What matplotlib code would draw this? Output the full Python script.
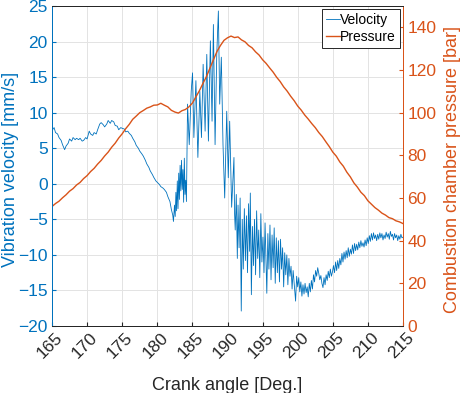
import matplotlib
matplotlib.use("Agg")
import matplotlib.pyplot as plt
import matplotlib.transforms as mtransforms

plt.rcParams['font.family'] = ['Liberation Sans', 'DejaVu Sans']

# crank angle [deg] and vibration velocity [mm/s]
vel_angle = [
    165.0, 165.3, 165.5, 165.8, 166.0, 166.3, 166.5, 166.8, 167.0, 167.3,
    167.5, 167.8, 168.0, 168.3, 168.5, 168.8, 169.0, 169.3, 169.5, 169.8,
    170.0, 170.3, 170.5, 170.8, 171.0, 171.3, 171.5, 171.8, 172.0, 172.3,
    172.5, 172.8, 173.0, 173.3, 173.5, 173.8, 174.0, 174.3, 174.5, 174.8,
    175.0, 175.3, 175.5, 175.8, 176.0, 176.3, 176.5, 176.8, 177.0, 177.3,
    177.5, 177.8, 178.0, 178.3, 178.5, 178.8, 179.0, 179.3, 179.5, 179.8,
    180.0, 180.3, 180.5, 180.8, 181.0, 181.3, 181.5, 181.8, 182.0, 182.2,
    182.3, 182.45, 182.55, 182.65, 182.75, 182.85, 182.95, 183.05, 183.15, 183.25,
    183.35, 183.45, 183.55, 183.65, 183.75, 183.85, 183.95, 184.05, 184.15, 184.31,
    184.55, 184.83, 185.02, 185.21, 185.5, 185.78, 186.06, 186.29, 186.53, 186.81,
    187.05, 187.28, 187.56, 187.8, 187.99, 188.23, 188.47, 188.7, 188.89, 189.12,
    189.36, 189.6, 189.89, 190.11, 190.31, 190.59, 190.92, 191.0, 191.1, 191.25,
    191.4, 191.5, 191.65, 191.8, 191.96, 192.1, 192.25, 192.4, 192.55, 192.7,
    192.85, 193.0, 193.15, 193.25, 193.4, 193.55, 193.7, 193.85, 194.0, 194.15,
    194.3, 194.45, 194.6, 194.75, 194.9, 195.05, 195.2, 195.35, 195.6, 195.75,
    195.9, 196.05, 196.2, 196.35, 196.5, 196.65, 196.8, 196.95, 197.1, 197.25,
    197.4, 197.55, 197.7, 197.85, 198.0, 198.15, 198.3, 198.45, 198.6, 198.75,
    198.9, 199.05, 199.2, 199.35, 199.5, 199.7, 199.85, 200.0, 200.15, 200.3,
    200.45, 200.6, 200.75, 200.9, 201.05, 201.2, 201.35, 201.5, 201.65, 201.8,
    201.95, 202.1, 202.25, 202.4, 202.55, 202.7, 202.85, 203.0, 203.15, 203.3,
    203.45, 203.6, 203.75, 203.9, 204.05, 204.2, 204.35, 204.5, 204.65, 204.8,
    204.95, 205.1, 205.25, 205.4, 205.55, 205.7, 205.85, 206.0, 206.15, 206.3,
    206.45, 206.6, 206.75, 206.9, 207.05, 207.2, 207.35, 207.5, 207.65, 207.8,
    207.95, 208.1, 208.25, 208.4, 208.55, 208.7, 208.85, 209.0, 209.15, 209.3,
    209.45, 209.6, 209.75, 209.9, 210.05, 210.2, 210.35, 210.5, 210.65, 210.8,
    210.95, 211.1, 211.25, 211.4, 211.55, 211.7, 211.85, 212.0, 212.15, 212.3,
    212.45, 212.6, 212.75, 212.9, 213.05, 213.2, 213.35, 213.5, 213.65, 213.8,
    213.95, 214.1, 214.25, 214.4, 214.55, 214.7, 214.85, 215.0,
]
velocity = [
    7.5, 7.9, 7.2, 7.0, 6.5, 6.1, 5.5, 4.8, 5.3, 5.7,
    6.3, 6.0, 6.5, 6.2, 6.4, 6.2, 6.4, 6.0, 6.1, 6.5,
    6.3, 7.4, 7.0, 6.8, 7.2, 7.0, 7.6, 8.4, 8.6, 8.3,
    8.0, 8.4, 8.9, 8.5, 8.9, 8.7, 8.2, 8.1, 7.6, 7.9,
    7.8, 7.7, 7.3, 7.4, 7.1, 6.8, 6.4, 5.9, 5.4, 5.0,
    4.6, 4.2, 3.9, 3.3, 2.8, 2.3, 1.8, 1.3, 0.9, 0.4,
    0.2, -0.1, -0.4, -0.6, -0.8, -1.2, -1.8, -2.5, -3.6, -4.4,
    -5.3, -3.0, -4.6, -1.2, -3.8, 0.4, -3.5, 1.5, -2.2, 2.6,
    -1.0, 3.3, -0.8, 2.0, -2.6, 3.6, -1.5, 0.5, -2.5, 11.2,
    5.5, 13.0, 15.6, 6.5, 14.5, 3.7, 13.0, 6.5, 16.8, 7.4,
    18.2, 6.0, 20.1, 8.8, 22.4, 5.5, 18.2, 24.3, 11.2, 17.8,
    5.5, -2.0, 10.2, 0.85, 8.8, -3.3, 3.7, -4.0, -6.5, -1.5,
    -10.5, -3.0, -9.0, -2.0, -17.9, -5.0, -12.0, -3.5, -10.8, -4.5,
    -12.5, -2.8, -9.5, -1.3, -15.6, -6.0, -11.5, -5.0, -12.8, -3.8,
    -10.5, -6.5, -13.2, -4.2, -11.0, -7.5, -12.5, -5.5, -15.4, -7.0,
    -12.0, -5.8, -13.5, -7.2, -11.8, -6.2, -14.0, -7.6, -12.5, -8.0,
    -13.8, -7.8, -12.0, -9.0, -14.5, -9.7, -12.8, -10.0, -14.2, -10.5,
    -13.0, -11.6, -14.8, -12.2, -14.0, -16.5, -13.0, -14.5, -13.2, -15.2,
    -13.8, -15.8, -14.2, -15.5, -14.0, -15.3, -14.5, -15.9, -14.0, -15.2,
    -13.6, -14.8, -12.8, -13.8, -12.2, -13.0, -11.8, -12.6, -13.5, -12.9,
    -14.0, -14.6, -13.2, -14.2, -12.8, -13.6, -12.3, -13.2, -12.0, -13.0,
    -12.4, -11.5, -12.5, -11.0, -12.2, -10.8, -11.9, -10.5, -11.4, -9.8,
    -11.0, -9.6, -10.6, -9.4, -10.4, -9.0, -10.2, -9.2, -9.9, -8.6,
    -9.8, -8.4, -9.4, -8.5, -9.3, -8.2, -9.0, -8.0, -8.8, -8.3,
    -8.9, -7.9, -8.7, -7.6, -8.4, -7.3, -8.1, -7.0, -7.9, -6.9,
    -7.7, -7.2, -8.0, -7.1, -7.8, -6.9, -7.6, -7.0, -7.9, -7.2,
    -7.7, -6.8, -7.5, -7.0, -7.8, -6.7, -7.4, -7.1, -7.9, -7.0,
    -7.6, -7.2, -8.0, -7.3, -7.8, -7.1, -7.6, -7.5,
]

# crank angle [deg] and combustion chamber pressure [bar]
pres_angle = [
    165.0, 165.5, 166.0, 166.5, 167.0, 167.5, 168.0, 168.5, 169.0, 169.5,
    170.0, 170.5, 171.0, 171.5, 172.0, 172.5, 173.0, 173.5, 174.0, 174.5,
    175.0, 175.5, 176.0, 176.5, 177.0, 177.5, 178.0, 178.5, 179.0, 179.5,
    180.0, 180.5, 181.0, 181.5, 182.0, 182.5, 183.0, 183.5, 184.0, 184.5,
    185.0, 185.5, 186.0, 186.5, 187.0, 187.5, 188.0, 188.5, 189.0, 189.5,
    190.0, 190.5, 191.0, 191.5, 192.0, 192.5, 193.0, 193.5, 194.0, 194.5,
    195.0, 195.5, 196.0, 196.5, 197.0, 197.5, 198.0, 198.5, 199.0, 199.5,
    200.0, 200.5, 201.0, 201.5, 202.0, 202.5, 203.0, 203.5, 204.0, 204.5,
    205.0, 205.5, 206.0, 206.5, 207.0, 207.5, 208.0, 208.5, 209.0, 209.5,
    210.0, 210.5, 211.0, 211.5, 212.0, 212.5, 213.0, 213.5, 214.0, 214.5,
    215.0,
]
pressure = [
    56.0, 57.4, 58.5, 60.1, 61.5, 63.2, 64.4, 66.1, 67.3, 69.1,
    70.5, 72.4, 73.9, 75.9, 77.6, 79.7, 81.5, 83.8, 85.7, 88.1,
    90.1, 92.5, 94.5, 96.9, 98.4, 100.0, 101.0, 102.1, 102.7, 103.5,
    103.6, 104.4, 103.5, 102.7, 101.1, 100.3, 99.8, 100.9, 101.5, 102.7,
    104.5, 107.4, 110.3, 113.7, 116.9, 120.9, 124.8, 128.7, 131.5, 133.9,
    135.1, 135.9, 135.2, 135.5, 134.1, 133.2, 131.5, 130.4, 128.5, 127.0,
    124.8, 123.1, 121.0, 119.0, 116.6, 114.6, 112.1, 110.1, 107.7, 105.6,
    103.1, 101.2, 98.9, 97.0, 94.9, 93.0, 90.7, 88.8, 86.4, 84.1,
    81.5, 79.6, 76.9, 74.9, 72.1, 69.9, 67.1, 65.1, 62.7, 61.1,
    58.7, 57.1, 55.5, 54.3, 52.9, 52.0, 50.8, 50.3, 49.3, 48.8,
    48.0,
]

x_ticks = [165, 170, 175, 180, 185, 190, 195, 200, 205, 210, 215]
vel_ticks = [-20, -15, -10, -5, 0, 5, 10, 15, 20, 25]
pres_ticks = [0, 20, 40, 60, 80, 100, 120, 140]

blue = '#0072BD'
orange = '#D95319'
grid_col = '#e3e3e3'
box_col = '#262626'

fig = plt.figure(figsize=(4.62, 3.93), dpi=100)
ax = fig.add_axes([52 / 462, 67 / 393, 351 / 462, 320 / 393])
ax2 = ax.twinx()

ax.plot(vel_angle, velocity, color=blue, lw=0.6, label='Velocity')
ax2.plot(pres_angle, pressure, color=orange, lw=1.0, label='Pressure')

ax.set_xlim(165, 215)
ax.set_ylim(-20, 25)
ax2.set_ylim(0, 150)
ax.set_xticks(x_ticks)
ax.set_yticks(vel_ticks)
ax2.set_yticks(pres_ticks)

ax.grid(True, color=grid_col, lw=0.7)
ax.set_axisbelow(True)

ax.tick_params(axis='x', direction='in', length=3, colors=box_col, labelsize=12.5,
               pad=3, top=False)
ax.tick_params(axis='y', direction='in', length=3, colors=blue, labelsize=12.5, pad=3)
ax2.tick_params(axis='y', direction='in', length=3, colors=orange, labelsize=12.5, pad=3)
shift = mtransforms.ScaledTranslation(3 / 100, 0, fig.dpi_scale_trans)
for lab in ax.get_xticklabels():
    lab.set_rotation(45)
    lab.set_ha('right')
    lab.set_va('top')
    lab.set_rotation_mode('anchor')
    lab.set_transform(lab.get_transform() + shift)

for a in (ax, ax2):
    a.spines['left'].set_color(blue)
    a.spines['right'].set_color(orange)
    a.spines['top'].set_color(box_col)
    a.spines['bottom'].set_color(box_col)
    for s in a.spines.values():
        s.set_linewidth(0.7)

ax.set_xlabel('Crank angle [Deg.]', fontsize=13, color=box_col)
ax.xaxis.set_label_coords(0.5, -0.158)
ax.set_ylabel('Vibration velocity [mm/s]', fontsize=13, color=blue)
ax.yaxis.set_label_coords(-0.093, 0.49)
ax2.set_ylabel('Combustion chamber pressure [bar]', fontsize=13, color=orange)
ax2.yaxis.set_label_coords(1.116, 0.49)

h1, l1 = ax.get_legend_handles_labels()
h2, l2 = ax2.get_legend_handles_labels()
leg = ax2.legend(h1 + h2, l1 + l2, loc='upper right', fontsize=10, fancybox=False,
                 framealpha=1, edgecolor=box_col, handlelength=0.95, handletextpad=0.05,
                 borderpad=0.3, labelspacing=0.2, borderaxespad=0.2)
leg.get_frame().set_linewidth(0.7)

fig.savefig('out.png', dpi=100)
